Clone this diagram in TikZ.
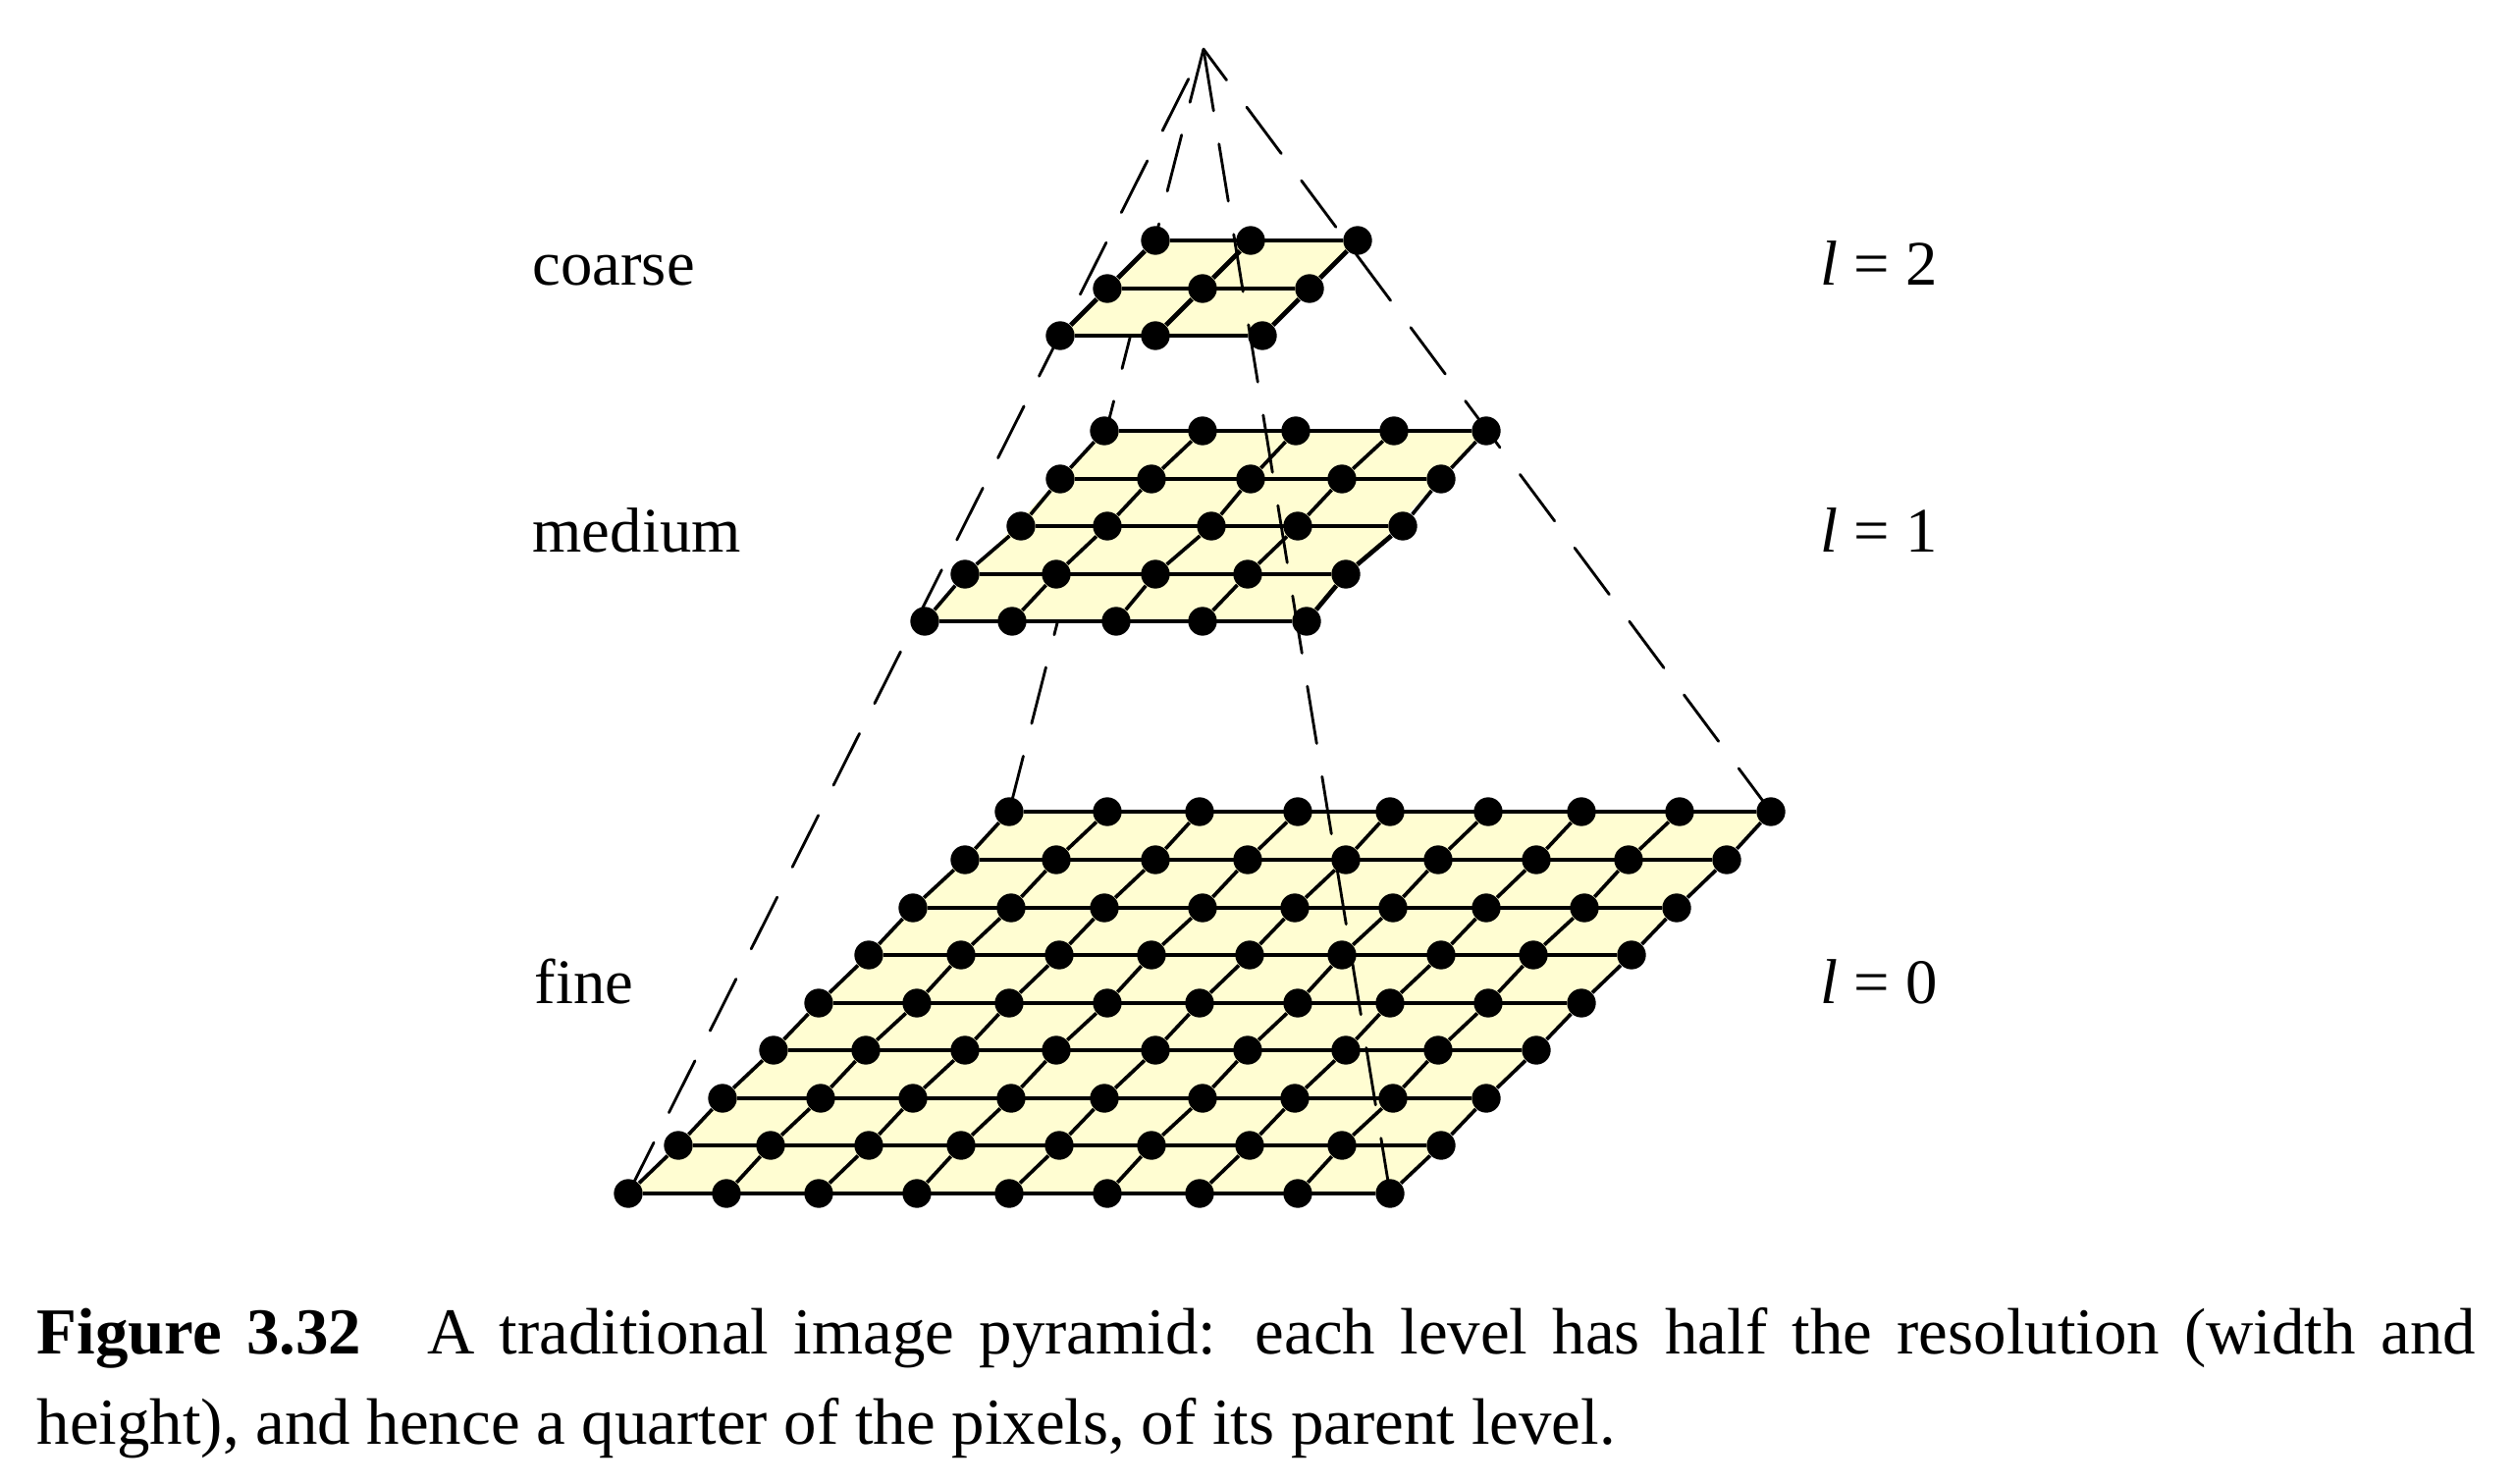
\documentclass[tikz,border=0pt]{standalone}
\usepackage{fontspec}
\setmainfont{Liberation Serif}
\definecolor{sheetyellow}{RGB}{255,253,210}

\begin{document}
\begin{tikzpicture}[
  x=0.3pt,y=-0.3pt,
  pixel/.style = {circle,fill=black,inner sep=0pt,minimum size=8.8pt},
  sheet/.style = {fill=sheetyellow},
  wire/.style = {line width=1.1pt},
  bold wire/.style = {line width=1.4pt},
  ray/.style = {line width=0.85pt,line cap=round,dash pattern=on 17.7pt off 10.29pt,dash phase=#1},
  level/.style = {font=\fontsize{19.4}{23}\selectfont,anchor=base west,inner sep=0pt},
  caption/.style = {font=\fontsize{20.06}{27.45}\selectfont,text width=745.2pt,align=justify,anchor=north west,inner sep=0pt}
  ]
  \useasboundingbox (0,0) rectangle (2562,1512);
  % fine
  \begin{scope}
    \fill[sheet] (640,1216) -- (1416,1216) -- (1804,827) -- (1028,827) -- cycle;
    \foreach \yy/\row [count=\j] in {
      1216/{640,740,834,934,1028,1128,1222,1322,1416},
      1167/{691,785,885,979,1079,1173,1273,1367,1468},
      1119/{736,836,930,1030,1125,1225,1319,1419,1514},
      1070/{788,882,983,1076,1177,1271,1371,1465,1565},
      1022/{834,934,1028,1128,1222,1322,1416,1516,1611},
      973/{885,979,1079,1173,1273,1367,1468,1562,1662},
      925/{930,1030,1125,1225,1319,1419,1514,1614,1708},
      876/{983,1076,1177,1271,1371,1465,1565,1659,1759},
      827/{1028,1128,1222,1322,1416,1516,1611,1711,1804}} {
      \foreach \xx [count=\i] in \row {
        \node[pixel] (f-\i-\j) at (\xx,\yy) {};
      }
    }
    \foreach \j in {1,...,9} {
      \draw[wire] (f-1-\j) -- (f-9-\j);
    }
    \foreach \i in {1,...,9} {
      \foreach \j [remember=\j as \k (initially 1)] in {2,...,9} {
        \draw[wire] (f-\i-\k) -- (f-\i-\j);
      }
    }
  \end{scope}
  \coordinate (apex) at (1226,50);
  % this one runs behind the upper sheets
  \draw[ray=0.9pt] (apex) -- (f-1-9.center);
  % medium
  \begin{scope}
    \fill[sheet] (942,633) -- (1331,633) -- (1514,439) -- (1125,439) -- cycle;
    \foreach \yy/\row [count=\j] in {
      633/{942,1031,1137,1225,1331},
      585/{983,1076,1177,1271,1371},
      536/{1040,1128,1234,1322,1429},
      488/{1080,1173,1274,1367,1468},
      439/{1125,1225,1320,1420,1514}} {
      \foreach \xx [count=\i] in \row {
        \node[pixel] (m-\i-\j) at (\xx,\yy) {};
      }
    }
    \foreach \j in {1,...,4} {
      \draw[wire] (m-1-\j) -- (m-5-\j);
    }
    \draw[bold wire] (m-1-5) -- (m-5-5);
    \foreach \i in {1,...,5} {
      \foreach \j [remember=\j as \k (initially 1)] in {2,...,5} {
        \draw[wire] (m-\i-\k) -- (m-\i-\j);
      }
    }
    \draw[bold wire] (m-5-1) -- (m-5-2);
    \draw[bold wire] (m-5-2) -- (m-5-3);
  \end{scope}
  % coarse
  \begin{scope}
    \fill[sheet] (1080,342) -- (1286,342) -- (1383,245) -- (1177,245) -- cycle;
    \foreach \yy/\row [count=\j] in {
      342/{1080,1177,1286},
      294/{1128,1225,1334},
      245/{1177,1274,1383}} {
      \foreach \xx [count=\i] in \row {
        \node[pixel] (c-\i-\j) at (\xx,\yy) {};
      }
    }
    \foreach \j in {1,...,3} {
      \draw[bold wire] (c-1-\j) -- (c-3-\j);
    }
    \foreach \i in {1,...,3} {
      \foreach \j [remember=\j as \k (initially 1)] in {2,3} {
        \draw[bold wire] (c-\i-\k) -- (c-\i-\j);
      }
    }
  \end{scope}
  \draw[ray=17.76pt] (apex) -- (f-1-1.center);
  \draw[ray=26.58pt] (apex) -- (f-9-1.center);
  \draw[ray=5.88pt] (apex) -- (f-9-9.center);
  \node[level] (coarse) at (542,290) {coarse};
  \node[level] (medium) at (542,562) {medium};
  \node[level] (fine) at (544,1022) {fine};
  \node[level] (l2) at (1854,290) {\textit{l}\hspace{4.8pt}=\hspace{4.8pt}2};
  \node[level] (l1) at (1854,562) {\textit{l}\hspace{4.8pt}=\hspace{4.8pt}1};
  \node[level] (l0) at (1854,1022) {\textit{l}\hspace{4.8pt}=\hspace{4.8pt}0};
  \node[caption] (cap) at (37,1332) {\textbf{Figure 3.32}\quad A traditional image pyramid: each level has half the resolution (width and\linebreak height), and hence a quarter of the pixels, of its parent level.};
\end{tikzpicture}
\end{document}
